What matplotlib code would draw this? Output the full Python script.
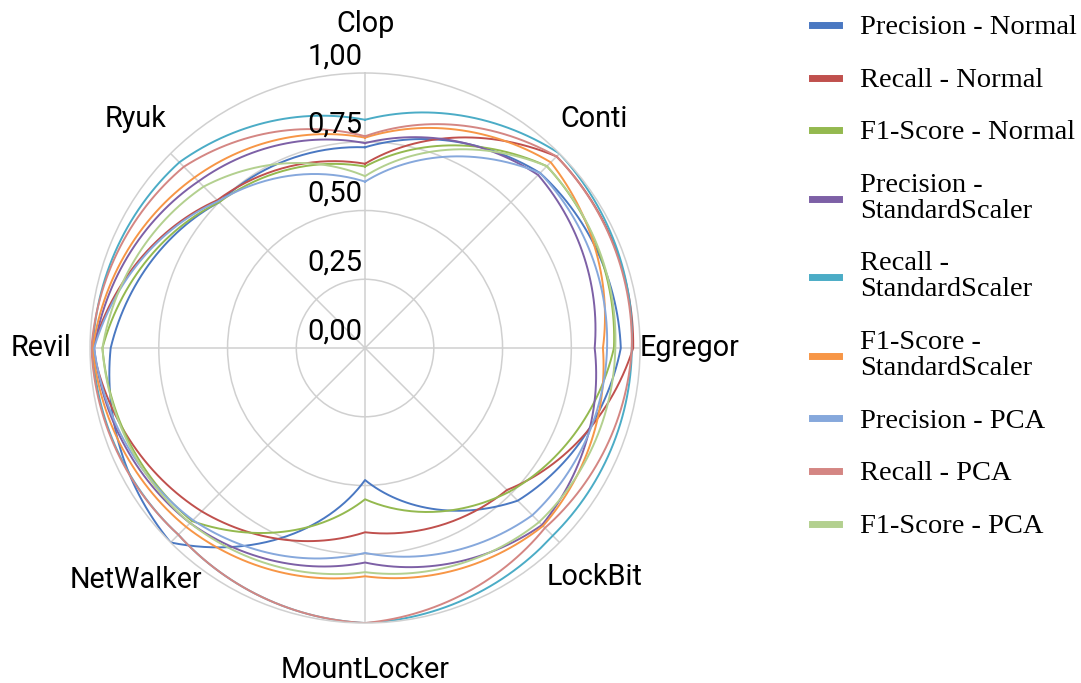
import numpy as np
import matplotlib.pyplot as plt

# Categorias (sentido horario a partir do topo)
categorias = ['Clop', 'Conti', 'Egregor', 'LockBit', 'MountLocker', 'NetWalker', 'Revil', 'Ryuk']

precision_normal = [0.73, 0.90, 0.93, 0.785, 0.48, 1.00, 0.925, 0.75]
recall_normal = [0.67, 0.985, 0.975, 0.73, 0.67, 0.84, 0.99, 0.76]
f1_normal = [0.66, 0.935, 0.905, 0.74, 0.55, 0.89, 0.955, 0.75]
precision_ss = [0.745, 0.89, 0.835, 0.91, 0.78, 0.90, 0.985, 0.857]
recall_ss = [0.83, 1.00, 0.97, 0.965, 1.00, 0.96, 0.99, 0.955]
f1_ss = [0.765, 0.955, 0.865, 0.915, 0.83, 0.92, 0.99, 0.877]
precision_pca = [0.605, 0.90, 0.88, 0.86, 0.745, 0.885, 0.985, 0.755]
recall_pca = [0.77, 0.985, 0.97, 0.925, 1.00, 0.96, 0.995, 0.932]
f1_pca = [0.625, 0.935, 0.91, 0.895, 0.815, 0.90, 0.955, 0.83]

rotulos = ['Precision - Normal', 'Recall - Normal', 'F1-Score - Normal',
           'Precision -\nStandardScaler', 'Recall -\nStandardScaler', 'F1-Score -\nStandardScaler',
           'Precision - PCA', 'Recall - PCA', 'F1-Score - PCA']
series = [precision_normal, recall_normal, f1_normal,
          precision_ss, recall_ss, f1_ss,
          precision_pca, recall_pca, f1_pca]
cores = ['#4a78c2', '#c0504d', '#94b94f', '#7d60a6', '#4bacc6', '#f79646',
         '#86a8dc', '#d48683', '#b3d08f']

ticks_r = [0.0, 0.25, 0.5, 0.75, 1.0]
ticks_txt = ['0,00', '0,25', '0,50', '0,75', '1,00']

cinza = '#d0d0d0'

fig = plt.figure(figsize=(10.81, 6.83), dpi=100)
ax = fig.add_axes([0.0833, 0.0878, 0.5088, 0.8053], projection='polar')
ax.set_theta_offset(np.pi / 2)
ax.set_theta_direction(-1)

n = len(categorias)
angulos = np.linspace(0, 2 * np.pi, n, endpoint=False)
# fecha o poligono em 2*pi (e nao em 0) para a interpolacao nao dar a volta
ang_fechado = np.linspace(0, 2 * np.pi, n + 1)

for valores, cor, rot in zip(series, cores, rotulos):
    v = np.append(valores, valores[0])
    ln, = ax.plot(ang_fechado, v, color=cor, linewidth=1.4, label=rot)
    # segmentos curvos (interpolados em theta-r pela transformacao polar)
    ln.get_path()._interpolation_steps = 60

ax.set_ylim(0, 1)
ax.set_rticks(ticks_r[1:-1])
ax.set_yticklabels([])
ax.set_thetagrids(np.degrees(angulos), [''] * n)
ax.grid(True, color=cinza, linewidth=1.1)
ax.spines['polar'].set_color(cinza)
ax.spines['polar'].set_linewidth(1.1)

# Rotulos das categorias (pequenos ajustes em pontos)
ajustes = {'NetWalker': (0, -2), 'MountLocker': (0, 2)}
for ang, nome in zip(angulos, categorias):
    ax.annotate(nome, xy=(ang, 1.18), xytext=ajustes.get(nome, (0, 0)),
                textcoords='offset points', ha='center', va='center',
                fontsize=20.7, family='Roboto', color='black',
                annotation_clip=False)

# Rotulos do eixo radial
for r, txt in zip(ticks_r, ticks_txt):
    ax.annotate(txt, xy=(0, r), xytext=(-2, 2), textcoords='offset points',
                ha='right', va='bottom', fontsize=21, family='Roboto',
                color='black', zorder=10, annotation_clip=False)

leg = fig.legend(loc='upper left', bbox_to_anchor=(812 / 1081, 1 - 15 / 683),
                 frameon=False, borderpad=0, borderaxespad=0,
                 handlelength=0.95, handleheight=0.5, handletextpad=0.75,
                 labelspacing=0.97, prop={'family': 'Liberation Serif', 'size': 20.5})
for h in leg.legend_handles:
    h.set_linewidth(5)
for t in leg.get_texts():
    t.set_linespacing(1.05)

fig.savefig('out.png', dpi=100)
